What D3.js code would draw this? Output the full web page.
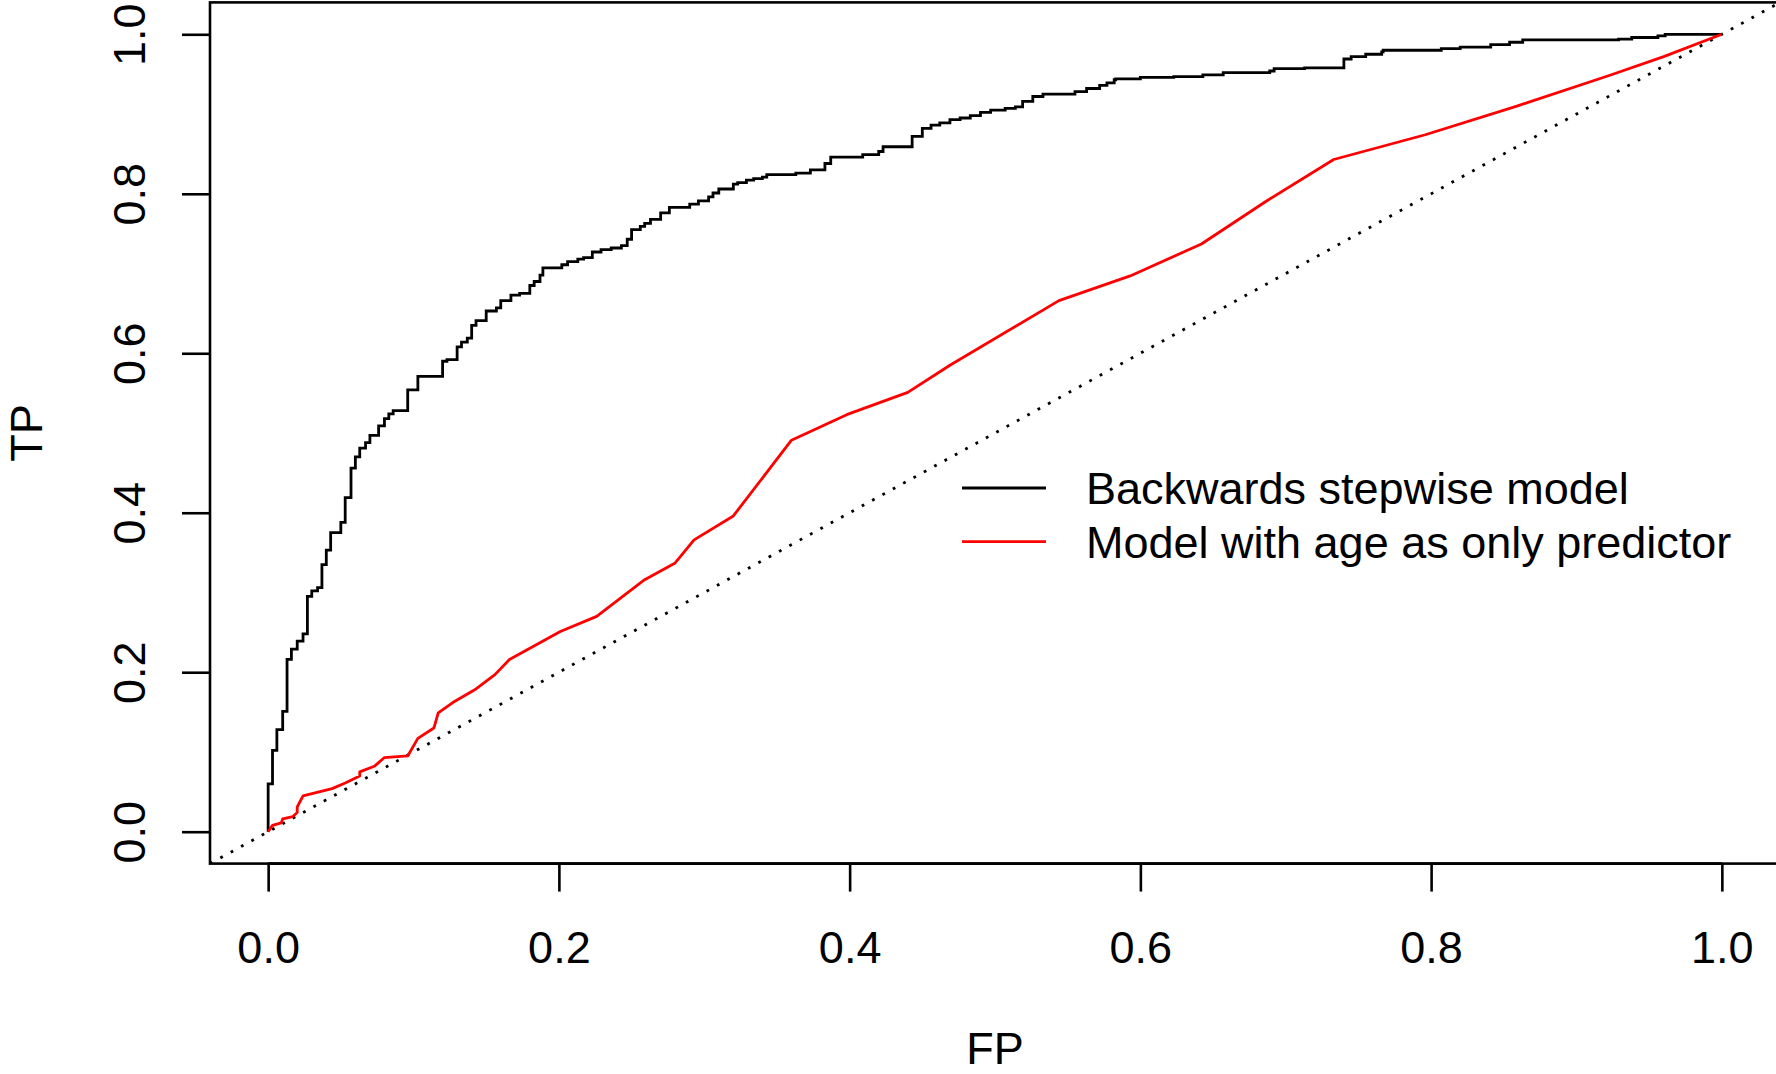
<!DOCTYPE html>
<html>
<head>
<meta charset="utf-8">
<script src="https://cdn.jsdelivr.net/npm/d3@7"></script>
<style>
  html, body { margin: 0; padding: 0; background: #fff; }
  svg { display: block; }
  text { font-family: "Liberation Sans", Arial, Helvetica, sans-serif; fill: #000; }
</style>
</head>
<body>
<svg id="chart" width="1776" height="1074"></svg>
<script>
// ---- Data ----
const stepwiseFP = [0, 0, 0.003, 0.006, 0.010, 0.013, 0.016, 0.020, 0.024, 0.027, 0.030, 0.034, 0.037, 0.040, 0.043, 0.050, 0.053, 0.057, 0.060, 0.063, 0.067, 0.070, 0.076, 0.080, 0.083, 0.086, 0.096, 0.103, 0.120, 0.123, 0.130, 0.133, 0.137, 0.140, 0.143, 0.150, 0.157, 0.160, 0.167, 0.173, 0.180, 0.183, 0.187, 0.189, 0.202, 0.206, 0.213, 0.217, 0.223, 0.229, 0.236, 0.243, 0.247, 0.250, 0.256, 0.259, 0.263, 0.270, 0.276, 0.290, 0.296, 0.303, 0.306, 0.310, 0.320, 0.323, 0.329, 0.334, 0.340, 0.343, 0.363, 0.373, 0.383, 0.387, 0.409, 0.420, 0.423, 0.443, 0.450, 0.456, 0.462, 0.469, 0.476, 0.483, 0.490, 0.497, 0.507, 0.514, 0.519, 0.526, 0.533, 0.555, 0.563, 0.572, 0.577, 0.582, 0.583, 0.600, 0.623, 0.643, 0.657, 0.689, 0.692, 0.713, 0.740, 0.745, 0.755, 0.766, 0.767, 0.807, 0.820, 0.841, 0.854, 0.863, 0.929, 0.938, 0.956, 0.961, 1.0];
const stepwiseTP = [0, 0.060, 0.102, 0.128, 0.151, 0.216, 0.229, 0.239, 0.248, 0.295, 0.302, 0.306, 0.335, 0.353, 0.375, 0.388, 0.419, 0.456, 0.470, 0.481, 0.488, 0.497, 0.509, 0.518, 0.524, 0.528, 0.554, 0.571, 0.590, 0.592, 0.608, 0.614, 0.619, 0.635, 0.641, 0.653, 0.657, 0.666, 0.673, 0.675, 0.685, 0.690, 0.698, 0.707, 0.711, 0.715, 0.718, 0.720, 0.727, 0.730, 0.732, 0.735, 0.743, 0.755, 0.759, 0.763, 0.768, 0.776, 0.783, 0.787, 0.791, 0.796, 0.801, 0.806, 0.812, 0.814, 0.817, 0.819, 0.821, 0.824, 0.826, 0.830, 0.838, 0.846, 0.849, 0.853, 0.859, 0.872, 0.882, 0.886, 0.889, 0.893, 0.895, 0.898, 0.902, 0.905, 0.907, 0.909, 0.916, 0.922, 0.925, 0.928, 0.932, 0.936, 0.939, 0.943, 0.944, 0.946, 0.947, 0.949, 0.952, 0.954, 0.957, 0.958, 0.969, 0.972, 0.975, 0.978, 0.980, 0.982, 0.984, 0.987, 0.990, 0.993, 0.994, 0.996, 0.998, 1.0, 1.0];

const ageFP = [0, 0.003, 0.009, 0.010, 0.017, 0.020, 0.020, 0.024, 0.044, 0.053, 0.063, 0.063, 0.073, 0.080, 0.096, 0.103, 0.114, 0.117, 0.127, 0.143, 0.156, 0.166, 0.201, 0.226, 0.259, 0.280, 0.293, 0.320, 0.360, 0.398, 0.440, 0.469, 0.544, 0.593, 0.642, 0.686, 0.733, 0.796, 0.859, 0.922, 0.960, 1.0];
const ageTP = [0, 0.008, 0.011, 0.016, 0.019, 0.024, 0.031, 0.045, 0.054, 0.061, 0.070, 0.075, 0.082, 0.093, 0.095, 0.117, 0.130, 0.149, 0.162, 0.179, 0.197, 0.216, 0.251, 0.270, 0.316, 0.337, 0.366, 0.396, 0.491, 0.523, 0.551, 0.585, 0.666, 0.697, 0.737, 0.790, 0.843, 0.874, 0.910, 0.948, 0.972, 1.0];

const tickValues = [0, 0.2, 0.4, 0.6, 0.8, 1.0];
const legendLabels = ["Backwards stepwise model", "Model with age as only predictor"];
const legendColors = ["#000000", "#ff0000"];
const xTitle = "FP";
const yTitle = "TP";

// ---- Layout ----
const svg = d3.select("#chart");
const W = 1776, H = 1074;
const plotL = 210, plotR = 1780, plotT = 2.4, plotB = 863.6;
const LW = 2.8;
const FS = 45;

svg.append("rect").attr("width", W).attr("height", H).attr("fill", "#fff");

const x = d3.scaleLinear().domain([-0.04, 1.04]).range([plotL, plotR]);
const y = d3.scaleLinear().domain([-0.04, 1.04]).range([plotB, plotT]);

svg.append("defs").append("clipPath").attr("id", "clip")
  .append("rect").attr("x", plotL).attr("y", plotT)
  .attr("width", plotR - plotL).attr("height", plotB - plotT);

const plot = svg.append("g").attr("clip-path", "url(#clip)");

// diagonal reference line
plot.append("line")
  .attr("x1", x(-0.04)).attr("y1", y(-0.04))
  .attr("x2", x(1.04)).attr("y2", y(1.04))
  .attr("stroke", "#000").attr("stroke-width", 2.8)
  .attr("stroke-dasharray", "2.8,9");

// step ROC curve
const stepData = stepwiseFP.map((v, i) => [v, stepwiseTP[i]]);
plot.append("path")
  .datum(stepData)
  .attr("fill", "none").attr("stroke", legendColors[0]).attr("stroke-width", LW)
  .attr("stroke-linejoin", "miter")
  .attr("d", d3.line().x(d => x(d[0])).y(d => y(d[1])).curve(d3.curveStepAfter));

// age-only ROC curve
const ageData = ageFP.map((v, i) => [v, ageTP[i]]);
plot.append("path")
  .datum(ageData)
  .attr("fill", "none").attr("stroke", legendColors[1]).attr("stroke-width", LW)
  .attr("stroke-linejoin", "round")
  .attr("d", d3.line().x(d => x(d[0])).y(d => y(d[1])));

// box
svg.append("rect")
  .attr("x", plotL).attr("y", plotT)
  .attr("width", plotR - plotL).attr("height", plotB - plotT)
  .attr("fill", "none").attr("stroke", "#000").attr("stroke-width", 2.6);

// axes
const fmt = d3.format(".1f");
const xAxis = svg.append("g").attr("transform", `translate(0,${plotB})`)
  .call(d3.axisBottom(x).tickValues(tickValues).tickFormat(fmt).tickSize(28).tickSizeOuter(0));
xAxis.select(".domain").remove();
xAxis.selectAll(".tick line").attr("stroke", "#000").attr("stroke-width", 2.6);
xAxis.selectAll(".tick text")
  .attr("y", 99.7).attr("dy", 0)
  .style("font-size", FS + "px")
  .style("font-family", '"Liberation Sans", Arial, Helvetica, sans-serif')
  .attr("fill", "#000");
xAxis.append("line")
  .attr("x1", x(0)).attr("x2", x(1)).attr("y1", 0).attr("y2", 0)
  .attr("stroke", "#000").attr("stroke-width", 2.6);

const yAxis = svg.append("g").attr("transform", `translate(${plotL},0)`)
  .call(d3.axisLeft(y).tickValues(tickValues).tickFormat(fmt).tickSize(28).tickSizeOuter(0));
yAxis.select(".domain").remove();
yAxis.selectAll(".tick line").attr("stroke", "#000").attr("stroke-width", 2.6);
yAxis.selectAll(".tick text")
  .attr("transform", "rotate(-90)")
  .attr("x", 0).attr("y", -65).attr("dy", 0)
  .attr("text-anchor", "middle")
  .style("font-size", FS + "px")
  .style("font-family", '"Liberation Sans", Arial, Helvetica, sans-serif')
  .attr("fill", "#000");

// axis titles
svg.append("text")
  .attr("x", (plotL + plotR) / 2).attr("y", 1064)
  .attr("text-anchor", "middle").style("font-size", FS + "px")
  .text(xTitle);
svg.append("text")
  .attr("transform", `translate(42,${(y(0) + y(1)) / 2}) rotate(-90)`)
  .attr("text-anchor", "middle").style("font-size", FS + "px")
  .text(yTitle);

// legend
const legend = svg.append("g");
const legY = [488, 541.7];
legendLabels.forEach((lab, i) => {
  legend.append("line")
    .attr("x1", 962).attr("x2", 1046)
    .attr("y1", legY[i]).attr("y2", legY[i])
    .attr("stroke", legendColors[i]).attr("stroke-width", LW);
  legend.append("text")
    .attr("x", 1086).attr("y", legY[i] + 16)
    .style("font-size", FS + "px")
    .text(lab);
});
</script>
</body>
</html>
